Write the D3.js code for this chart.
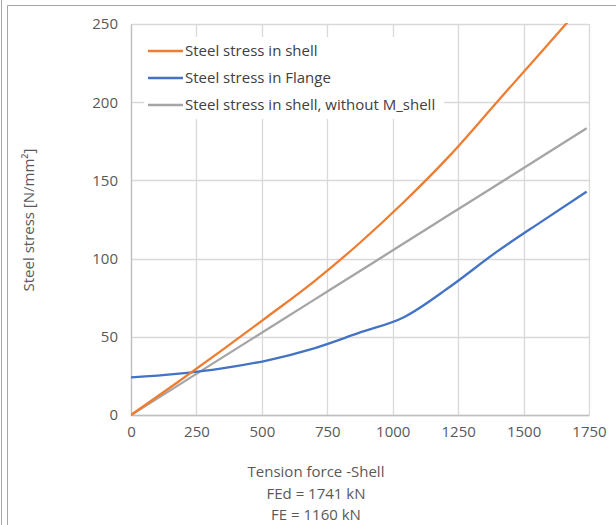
<!DOCTYPE html>
<html>
<head>
<meta charset="utf-8">
<script src="https://cdn.jsdelivr.net/npm/d3@7"></script>
<style>
  body { margin: 0; background: #fff; }
  svg { display: block; font-family: "Open Sans", sans-serif; }
</style>
</head>
<body>
<div id="chart"></div>
<script>
// tension force steps (FEd / 10)
const force = [0, 174.1, 348.2, 522.3, 696.4, 870.5, 1044.6, 1218.7, 1392.8, 1566.9, 1741];
const stressShell = [0, 20.5, 41.5, 63, 85, 109.5, 136.5, 166, 199, 232, 265];
const stressFlange = [24, 26.3, 29.8, 35, 42.5, 52.5, 62.7, 82, 103.8, 123.5, 142.8];
const stressNoM = [0, 18.3, 36.7, 55, 73.3, 91.6, 110, 128.3, 146.6, 165, 183.3];
const seriesNames = ["Steel stress in shell", "Steel stress in Flange", "Steel stress in shell, without M_shell"];
const seriesColors = ["#ED7D31", "#4472C4", "#A5A5A5"];
const xTicks = [0, 250, 500, 750, 1000, 1250, 1500, 1750];
const yTicks = [0, 50, 100, 150, 200, 250];
const xTitle = ["Tension force -Shell", "FEd = 1741 kN", "FE = 1160 kN"];
const yTitle = "Steel stress [N/mm²]";

const width = 616, height = 525;
const plot = {left: 131, right: 589, top: 24, bottom: 415};
const fontSize = "15px";

const svg = d3.select("#chart").append("svg")
    .attr("width", width)
    .attr("height", height);

// outer frame
svg.append("line")
    .attr("x1", 1.5).attr("x2", 1.5).attr("y1", 0).attr("y2", height)
    .attr("stroke", "#a6a6a6");
svg.append("path")
    .attr("d", `M7.5,${height} V5.5 H${width}`)
    .attr("fill", "none")
    .attr("stroke", "#a6a6a6");

const x = d3.scaleLinear().domain([0, 1750]).range([plot.left, plot.right]);
const y = d3.scaleLinear().domain([0, 250]).range([plot.bottom, plot.top]);

// gridlines
const grid = svg.append("g");
grid.selectAll(".vg")
  .data(xTicks)
  .join("line")
    .attr("x1", d => Math.round(x(d)) + 0.5).attr("x2", d => Math.round(x(d)) + 0.5)
    .attr("y1", plot.top).attr("y2", plot.bottom)
    .attr("stroke", "#d9d9d9").attr("stroke-width", 1.3);
grid.selectAll(".hg")
  .data(yTicks)
  .join("line")
    .attr("x1", plot.left).attr("x2", plot.right)
    .attr("y1", d => Math.round(y(d)) + 0.5).attr("y2", d => Math.round(y(d)) + 0.5)
    .attr("stroke", "#d9d9d9").attr("stroke-width", 1.3);

// axes (labels only)
const xAxis = svg.append("g")
    .attr("transform", `translate(0, ${plot.bottom})`)
    .call(d3.axisBottom(x).tickValues(xTicks).tickFormat(d3.format("d")).tickSize(0).tickPadding(11));
const yAxis = svg.append("g")
    .attr("transform", `translate(${plot.left}, 0)`)
    .call(d3.axisLeft(y).tickValues(yTicks).tickFormat(d3.format("d")).tickSize(0).tickPadding(13));
[xAxis, yAxis].forEach(a => {
  a.select(".domain").attr("stroke", "#bfbfbf").attr("stroke-width", 1.3);
  a.selectAll("text").attr("fill", "#595959").style("font-size", fontSize)
    .style("font-family", "'Open Sans', sans-serif");
});

// lines
svg.append("clipPath").attr("id", "plotclip")
  .append("rect")
    .attr("x", plot.left).attr("y", plot.top - 1)
    .attr("width", plot.right - plot.left).attr("height", plot.bottom - plot.top + 2);

const series = [stressShell, stressFlange, stressNoM];
const line = d3.line()
    .x((d, i) => x(force[i]))
    .y(d => y(d))
    .curve(d3.curveMonotoneX);

const lines = svg.append("g").attr("clip-path", "url(#plotclip)");
// draw gray first, then blue, then orange on top
[2, 1, 0].forEach(k => {
  lines.append("path")
      .datum(series[k])
      .attr("fill", "none")
      .attr("stroke", seriesColors[k])
      .attr("stroke-width", 2.3)
      .attr("stroke-linejoin", "round")
      .attr("d", line);
});

// legend
const legend = svg.append("g");
legend.append("rect")
    .attr("x", 144).attr("y", 37)
    .attr("width", 300).attr("height", 82)
    .attr("fill", "#fff");
const rowY = [51, 78, 105];
seriesNames.forEach((name, i) => {
  legend.append("line")
      .attr("x1", 148).attr("x2", 183)
      .attr("y1", rowY[i]).attr("y2", rowY[i])
      .attr("stroke", seriesColors[i]).attr("stroke-width", 2.3);
  legend.append("text")
      .attr("x", 185).attr("y", rowY[i])
      .attr("dy", "0.35em")
      .attr("fill", "#404040")
      .style("font-size", fontSize)
      .text(name);
});

// axis titles
svg.append("text")
    .attr("transform", "translate(34, 220) rotate(-90)")
    .attr("text-anchor", "middle")
    .attr("fill", "#595959")
    .style("font-size", fontSize)
    .text(yTitle);

svg.selectAll(".xt")
  .data(xTitle)
  .join("text")
    .attr("x", 316)
    .attr("y", (d, i) => 472 + i * 21.3)
    .attr("dy", "0.35em")
    .attr("text-anchor", "middle")
    .attr("fill", "#595959")
    .style("font-size", fontSize)
    .text(d => d);
</script>
</body>
</html>
